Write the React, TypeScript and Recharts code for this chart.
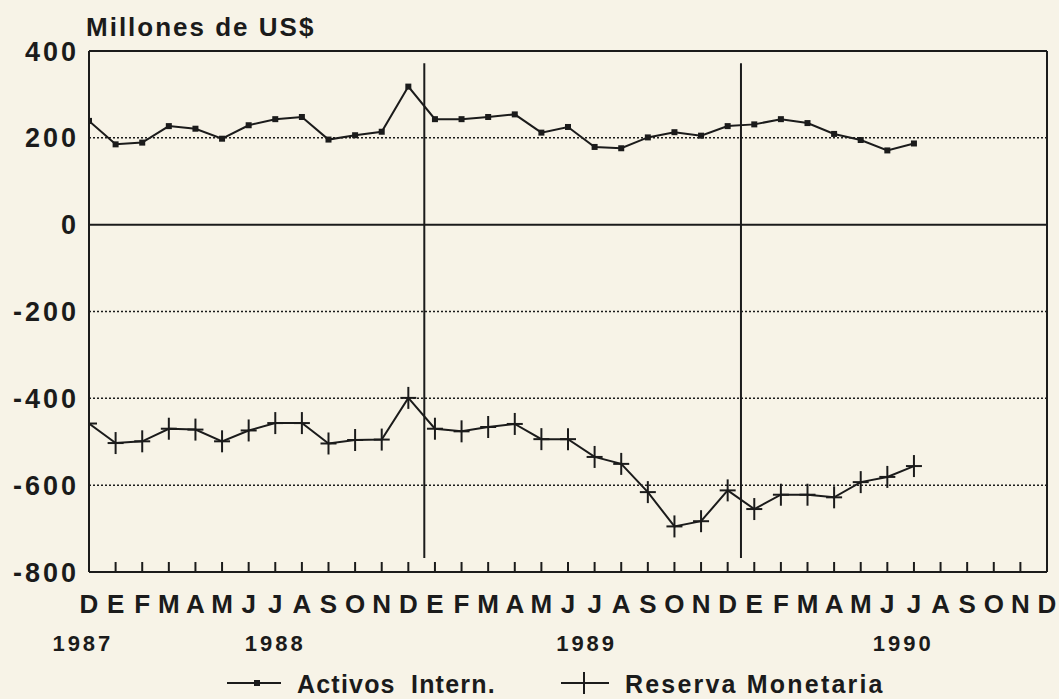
import React from "react";
import { LineChart, Line, XAxis, YAxis, ReferenceLine, Legend } from "recharts";

const months = ["D","E","F","M","A","M","J","J","A","S","O","N","D","E","F","M","A","M","J","J","A","S","O","N","D","E","F","M","A","M","J","J","A","S","O","N","D"];
const activos = [239,185,189,227,221,198,229,243,248,196,206,214,318,243,243,248,254,212,225,179,176,201,213,205,227,231,243,234,209,195,171,187];
const reserva = [-458,-503,-499,-470,-472,-499,-474,-457,-457,-504,-496,-495,-399,-470,-476,-466,-459,-494,-494,-535,-551,-616,-695,-683,-612,-655,-622,-622,-628,-593,-581,-556];
const yTicks = [400,200,0,-200,-400,-600,-800];
const dottedGrid = [200,-200,-400,-600];
const years = ["1987","1988","1989","1990"];
const yearPos = [-0.23, 7, 18.7, 30.6];
const yearSeparators = [12.6, 24.5];
const seriesNames = ["Activos", "Intern.", "Reserva Monetaria"];

const data = activos.map((a, i) => ({ i, activos: a, reserva: reserva[i] }));
const monthTicks = months.map((_, i) => i);

const ink = "#1b1b1b";
const bg = "#f7f3e7";
const font = "'Liberation Sans', Arial, sans-serif";

const MonthTick = (props: any) => {
  const { x, y, payload } = props;
  const i = payload.value;
  return (
    <g>
      {i > 0 && i < 36 && (
        <line x1={x} x2={x} y1={y} y2={y - 10} stroke={ink} strokeWidth={2} />
      )}
      <text x={x} y={y + 32} textAnchor="middle" dominantBaseline="central"
        fill={ink} fontSize={26} fontWeight={700} fontFamily={font}>
        {months[i]}
      </text>
    </g>
  );
};

const YearTick = (props: any) => {
  const { x, y, payload } = props;
  const idx = yearPos.indexOf(payload.value);
  return (
    <text x={x} y={y + 19} textAnchor="middle" dominantBaseline="central"
      fill={ink} fontSize={22} fontWeight={700} fontFamily={font} letterSpacing={3}>
      {years[idx]}
    </text>
  );
};

const PlusDot = (props: any) => {
  const { cx, cy } = props;
  if (cx == null || cy == null) return <g />;
  return (
    <g>
      <line x1={cx - 8} x2={cx + 8} y1={cy} y2={cy} stroke={ink} strokeWidth={2} />
      <line x1={cx} x2={cx} y1={cy - 11} y2={cy + 11} stroke={ink} strokeWidth={2} />
    </g>
  );
};

const SmallDot = (props: any) => {
  const { cx, cy } = props;
  if (cx == null || cy == null) return <g />;
  return <rect x={cx - 3} y={cy - 3} width={6} height={6} fill={ink} />;
};

const LegendContent = () => (
  <svg width={1046} height={30} style={{ display: "block", overflow: "visible" }}>
    <line x1={227} x2={281} y1={14} y2={14} stroke={ink} strokeWidth={2} />
    <rect x={254} y={11} width={6} height={6} fill={ink} />
    <text x={297} y={15} dominantBaseline="central" fill={ink} fontSize={25}
      fontWeight={700} fontFamily={font} letterSpacing={1.2}>
      {seriesNames[0]}
    </text>
    <text x={411} y={15} dominantBaseline="central" fill={ink} fontSize={25}
      fontWeight={700} fontFamily={font} letterSpacing={1.2}>
      {seriesNames[1]}
    </text>
    <line x1={561} x2={609} y1={14} y2={14} stroke={ink} strokeWidth={2} />
    <line x1={584} x2={584} y1={3} y2={25} stroke={ink} strokeWidth={2} />
    <text x={625} y={15} dominantBaseline="central" fill={ink} fontSize={25}
      fontWeight={700} fontFamily={font} letterSpacing={2.2}>
      {seriesNames[2]}
    </text>
  </svg>
);

export default function App() {
  return (
    <div style={{ position: "absolute", left: 0, top: 0, width: 1059, height: 699, background: bg, overflow: "hidden" }}>
      <div style={{ position: "absolute", left: 86, top: 12, fontFamily: font, fontWeight: 700,
        fontSize: 26, lineHeight: "30px", letterSpacing: 2, color: ink, whiteSpace: "nowrap" }}>
        Millones de US$
      </div>
      <LineChart width={1059} height={699} data={data}
        margin={{ top: 51, right: 12, bottom: 0, left: 0 }}>
        <XAxis dataKey="i" type="number" domain={[0, 36]} ticks={monthTicks} interval={0}
          tickLine={false} tickSize={0} tickMargin={0} height={52} allowDataOverflow
          axisLine={{ stroke: ink, strokeWidth: 2 }} tick={(p: any) => <MonthTick {...p} />} />
        <XAxis xAxisId="yr" dataKey="i" type="number" domain={[0, 36]} ticks={yearPos} interval={0}
          tickLine={false} axisLine={false} tickSize={0} tickMargin={0} height={45} allowDataOverflow
          tick={(p: any) => <YearTick {...p} />} />
        <YAxis type="number" domain={[-800, 400]} ticks={yTicks} interval={0} width={89}
          tickLine={false} tickSize={0} tickMargin={10} allowDataOverflow
          axisLine={{ stroke: ink, strokeWidth: 2 }}
          tick={{ fill: ink, fontSize: 27, fontWeight: 700, fontFamily: font, letterSpacing: 3 }} />
        {dottedGrid.map((v) => (
          <ReferenceLine key={"g" + v} y={v} stroke={ink} strokeWidth={1.5} strokeDasharray="2 2" />
        ))}
        <ReferenceLine y={0} stroke={ink} strokeWidth={2} />
        <ReferenceLine y={400} stroke={ink} strokeWidth={2} />
        <ReferenceLine x={36} stroke={ink} strokeWidth={2} />
        {yearSeparators.map((v) => (
          <ReferenceLine key={"s" + v} segment={[{ x: v, y: 372 }, { x: v, y: -768 }]}
            stroke={ink} strokeWidth={2} />
        ))}
        <Line dataKey="activos" name="Activos Intern." stroke={ink} strokeWidth={2}
          dot={(p: any) => <SmallDot key={"a" + p.index} {...p} />} activeDot={false}
          isAnimationActive={false} />
        <Line dataKey="reserva" name="Reserva Monetaria" stroke={ink} strokeWidth={2}
          dot={(p: any) => <PlusDot key={"r" + p.index} {...p} />} activeDot={false}
          isAnimationActive={false} />
        <Legend verticalAlign="bottom" height={30} content={() => <LegendContent />} />
      </LineChart>
    </div>
  );
}
